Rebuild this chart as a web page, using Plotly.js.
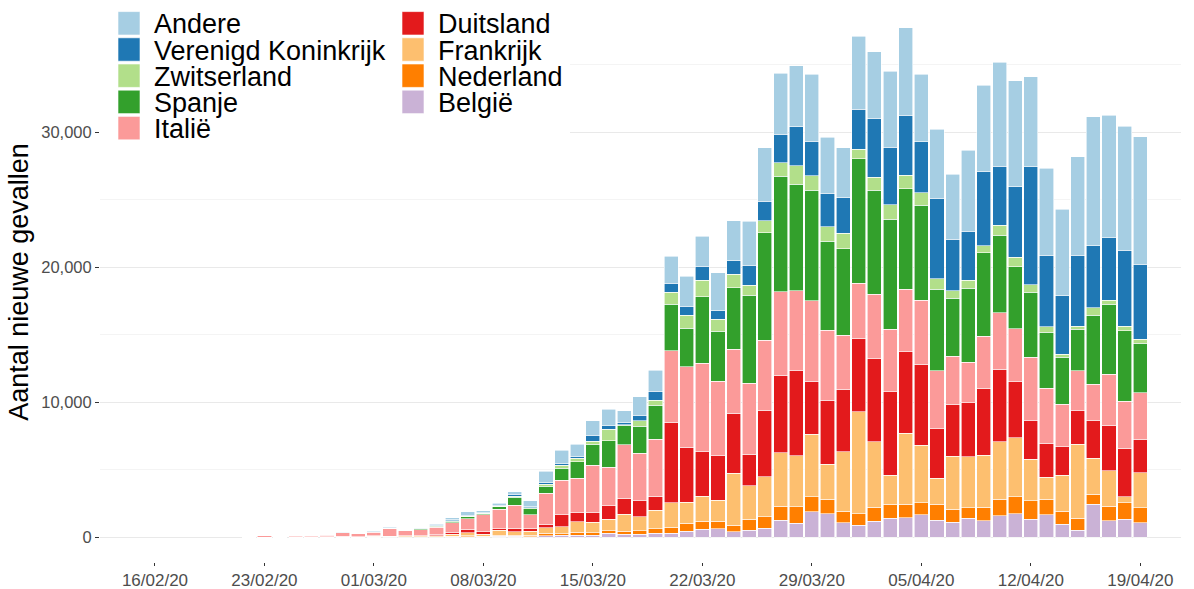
<!DOCTYPE html>
<html>
<head>
<meta charset="utf-8">
<script src="https://cdn.plot.ly/plotly-3.0.1.min.js"></script>
<style>
  html, body { margin: 0; padding: 0; background: #fff; }
  #chart { width: 1194px; height: 589px; }
</style>
</head>
<body>
<div id="chart"></div>
<script>
// ---- data ----
const dates = [
  '2020-02-22','2020-02-23','2020-02-24','2020-02-25','2020-02-26','2020-02-27','2020-02-28','2020-02-29',
  '2020-03-01','2020-03-02','2020-03-03','2020-03-04','2020-03-05','2020-03-06','2020-03-07','2020-03-08',
  '2020-03-09','2020-03-10','2020-03-11','2020-03-12','2020-03-13','2020-03-14','2020-03-15','2020-03-16',
  '2020-03-17','2020-03-18','2020-03-19','2020-03-20','2020-03-21','2020-03-22','2020-03-23','2020-03-24',
  '2020-03-25','2020-03-26','2020-03-27','2020-03-28','2020-03-29','2020-03-30','2020-03-31','2020-04-01',
  '2020-04-02','2020-04-03','2020-04-04','2020-04-05','2020-04-06','2020-04-07','2020-04-08','2020-04-09',
  '2020-04-10','2020-04-11','2020-04-12','2020-04-13','2020-04-14','2020-04-15','2020-04-16','2020-04-17',
  '2020-04-18','2020-04-19'
];

const belgie = [0,0,0,0,0,0,0,0,0,5,5,5,10,20,30,20,40,40,30,99,123,148,148,272,222,222,272,272,444,568,593,395,
  518,642,1259,1012,1876,1704,1062,889,1185,1383,1432,1630,1259,1111,1383,1210,1580,1704,1333,1630,938,518,2444,1210,1309,1062];
const nederland = [0,0,0,0,0,0,0,0,5,8,10,15,25,50,70,50,83,83,93,173,124,198,173,197,222,247,321,444,568,617,592,494,
  815,864,1037,1235,1111,1086,864,815,1012,1061,1012,913,1185,938,790,987,1235,1283,1358,1160,988,865,741,1086,1234,1111];
const frankrijk = [0,0,0,5,5,10,20,15,40,30,60,60,70,150,220,150,395,272,321,419,518,790,765,840,1235,1037,1407,1827,1556,1852,1556,3827,
  2469,2963,3951,3777,4618,2592,4395,7579,4864,2148,5235,4271,1901,3951,3777,3852,4246,4371,3086,1630,2642,5506,2642,2617,444,2592];
const duitsland = [0,0,0,5,10,20,30,20,60,20,30,30,50,150,250,175,75,247,198,272,865,691,741,1012,1185,1185,1037,5975,4074,3284,3283,4444,
  2321,4938,5752,6296,3950,4766,4617,5457,6148,6173,6049,5975,3679,3827,4000,4963,5358,4148,2840,2518,2123,2469,2839,3383,3581,2469];
const italie = [45,90,65,130,125,110,250,240,240,561,347,440,570,690,770,1235,1456,1728,988,2271,2592,2518,3506,2839,3975,3506,4197,5284,5975,6543,5531,4765,
  5259,5185,6173,5926,5950,5184,3999,4049,4765,4642,4617,4766,4296,3580,2988,3876,4197,3925,4691,4074,3136,2962,2667,3777,3506,3457];
const spanje = [0,0,0,5,5,10,15,10,30,15,20,55,70,120,150,100,200,568,493,544,864,1235,1556,1975,1432,2025,2543,3456,2839,4938,3704,4543,
  6543,7950,8567,7901,8197,6568,6420,9234,7728,8123,7456,7036,6049,4271,5505,6173,5753,4593,4814,4172,3481,3062,5111,5185,5209,3654];
const zwitserland = [0,0,0,0,0,5,10,5,10,10,10,20,30,40,50,25,47,99,50,148,222,247,222,865,50,395,371,865,963,1234,864,1012,
  741,889,988,1358,1062,1086,1136,691,938,1086,1012,914,766,568,593,518,741,691,568,395,247,247,543,297,346,296];
const verenigdKoninkrijk = [0,0,0,0,0,0,5,5,10,10,10,15,20,40,50,45,50,123,74,99,148,123,419,246,148,420,666,666,691,1037,642,988,
  1481,1457,2123,2888,2543,2469,2641,2988,4370,4247,4444,3777,5950,3802,3629,5481,4370,5234,8741,5309,4321,5259,4592,4617,5629,5555];
const andere = [0,5,5,5,5,20,40,15,50,60,30,50,90,150,280,150,148,198,444,835,988,914,1087,1235,889,1358,1556,2025,2223,2223,2815,2964,
  3259,3950,4494,4519,4987,4148,3704,5409,4939,5629,6471,5012,5111,4839,6000,6420,7703,7852,6666,6419,6419,7283,9555,9061,9185,9456];

// stacking order, bottom to top
const seriesNames  = ['België','Nederland','Frankrijk','Duitsland','Italië','Spanje','Zwitserland','Verenigd Koninkrijk','Andere'];
const seriesValues = [belgie, nederland, frankrijk, duitsland, italie, spanje, zwitserland, verenigdKoninkrijk, andere];
const seriesColors = ['#CAB2D6','#FF7F00','#FDBF6F','#E31A1C','#FB9A99','#33A02C','#B2DF8A','#1F78B4','#A6CEE3'];

// legend layout (two columns, as in the reference)
const legendColumns = [
  ['Andere','Verenigd Koninkrijk','Zwitserland','Spanje','Italië'],
  ['Duitsland','Frankrijk','Nederland','België']
];

const FONT = 'Liberation Sans, Arial, Helvetica, sans-serif';
const DAY = 86400000;

const traces = seriesNames.map((n, i) => ({
  type: 'bar',
  name: n,
  x: dates,
  y: seriesValues[i],
  width: 0.9 * DAY,
  marker: { color: seriesColors[i], line: { color: '#ffffff', width: 0.6 } },
  hoverinfo: 'x+y+name',
  showlegend: false
}));

// plot area geometry (pixels)
const ML = 100, MR = 13, MT = 2, MB = 27;
const W = 1194, H = 589;
const PW = W - ML - MR, PH = H - MT - MB;
const pxX = p => (p - ML) / PW;
const pxY = p => (H - MB - p) / PH;

function fmt(ms) {
  const d = new Date(ms);
  const z = v => String(v).padStart(2, '0');
  return d.getUTCFullYear() + '-' + z(d.getUTCMonth() + 1) + '-' + z(d.getUTCDate()) + ' ' +
         z(d.getUTCHours()) + ':' + z(d.getUTCMinutes()) + ':' + z(d.getUTCSeconds());
}
const d19 = Date.UTC(2020, 3, 19);
const pxPerDay = 15.64, px19 = 1140.3;
const xRange = [fmt(d19 - (px19 - ML) / pxPerDay * DAY), fmt(d19 + (ML + PW - px19) / pxPerDay * DAY)];

// legend drawn from the arrays
const shapes = [{
  type: 'rect', xref: 'paper', yref: 'paper', layer: 'above',
  x0: pxX(ML), x1: pxX(570), y0: pxY(146), y1: pxY(MT),
  fillcolor: '#ffffff', line: { width: 0 }
}];
const annotations = [];
const colSwatchX = [118, 402], colTextX = [152, 436];
const rowY0 = 23.3, rowPitch = 26.2, swW = 22, swH = 23.4;
legendColumns.forEach((col, ci) => {
  col.forEach((name, ri) => {
    const cy = rowY0 + ri * rowPitch;
    const color = seriesColors[seriesNames.indexOf(name)];
    shapes.push({
      type: 'rect', xref: 'paper', yref: 'paper', layer: 'above',
      x0: pxX(colSwatchX[ci]), x1: pxX(colSwatchX[ci] + swW),
      y0: pxY(cy + swH / 2), y1: pxY(cy - swH / 2),
      fillcolor: color, line: { color: '#ffffff', width: 0.6 }
    });
    annotations.push({
      xref: 'paper', yref: 'paper', x: pxX(colTextX[ci]), y: pxY(cy + 1),
      xanchor: 'left', yanchor: 'middle', showarrow: false,
      text: name, font: { family: FONT, size: 27, color: '#000000' }
    });
  });
});

const layout = {
  width: W, height: H,
  margin: { l: ML, r: MR, t: MT, b: MB, pad: 0 },
  paper_bgcolor: '#ffffff', plot_bgcolor: '#ffffff',
  barmode: 'stack',
  bargap: 0,
  showlegend: false,
  font: { family: FONT, color: '#4d4d4d' },
  xaxis: {
    type: 'date',
    range: xRange,
    tick0: '2020-02-16', dtick: 7 * DAY,
    tickformat: '%d/%m/%y',
    showgrid: false, zeroline: false, showline: false,
    ticks: 'outside', ticklen: 3, tickcolor: '#333333', tickwidth: 1,
    tickfont: { family: FONT, size: 17, color: '#4d4d4d' },
    automargin: false
  },
  yaxis: {
    range: [-1852, 39630],
    tickmode: 'linear', tick0: 0, dtick: 10000,
    tickformat: ',d',
    showgrid: true, gridcolor: '#e9e9e9', gridwidth: 1,
    minor: { dtick: 5000, tick0: 0, showgrid: true, gridcolor: '#f4f4f4', gridwidth: 1, ticks: '' },
    zeroline: false, showline: false,
    ticks: 'outside', ticklen: 4, tickcolor: '#333333', tickwidth: 1,
    tickfont: { family: FONT, size: 16.5, color: '#4d4d4d' },
    title: { text: 'Aantal nieuwe gevallen', font: { family: FONT, size: 27, color: '#000000' }, standoff: 4 },
    automargin: false
  },
  shapes: shapes,
  annotations: annotations
};

Plotly.newPlot('chart', traces, layout, { displayModeBar: false, staticPlot: true });
</script>
</body>
</html>
